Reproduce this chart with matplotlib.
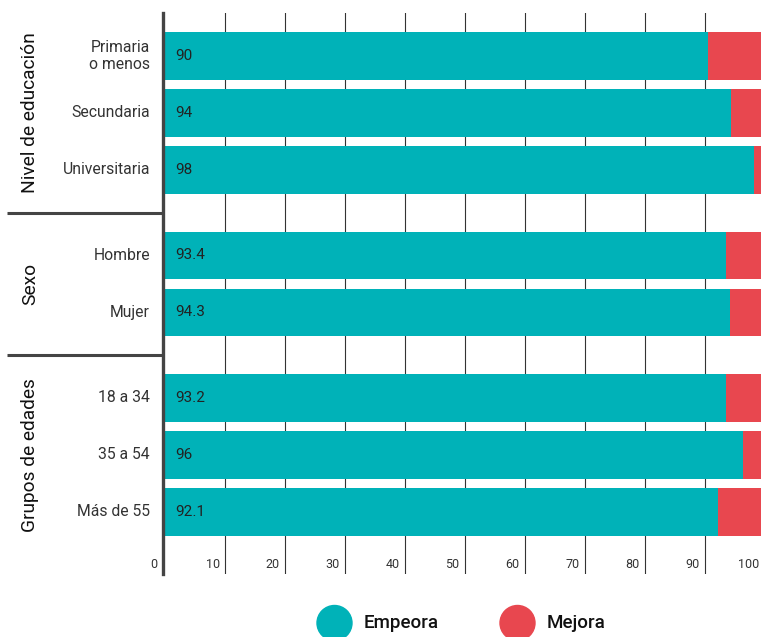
import matplotlib
matplotlib.use("Agg")
import matplotlib.pyplot as plt
from matplotlib.patches import Circle

plt.rcParams['font.family'] = ['Roboto', 'DejaVu Sans']

categories = ["Primaria\no menos", "Secundaria", "Universitaria",
              "Hombre", "Mujer",
              "18 a 34", "35 a 54", "Más de 55"]
value_labels = ["90", "94", "98", "93.4", "94.3", "93.2", "96", "92.1"]
empeora = [90.5, 94.4, 98.2, 93.6, 94.2, 93.6, 96.4, 92.2]
mejora = [100 - v for v in empeora]
groups = ["Nivel de educación", "Sexo", "Grupos de edades"]
group_members = [[0, 1, 2], [3, 4], [5, 6, 7]]
positions = [0, 1, 2, 3.5, 4.5, 6, 7, 8]
xticks = [0, 10, 20, 30, 40, 50, 60, 70, 80, 90, 100]

TEAL = "#00B2B8"
RED = "#E8474F"
DARK = "#444444"

W, H = 761, 637
fig = plt.figure(figsize=(W / 100, H / 100), dpi=100)
ax = fig.add_axes([163 / W, (H - 574) / H, 598 / W, 561 / H])
ax.set_xlim(-0.4, 99.4)
ax.set_ylim(9.09, -0.754)

# gridlines
for t in xticks[1:]:
    ax.axvline(t, color="#333333", lw=0.8, zorder=0)

ax.barh(positions, empeora, height=0.833, color=TEAL, zorder=2)
ax.barh(positions, mejora, left=empeora, height=0.833, color=RED, zorder=2)

for p, lab in zip(positions, value_labels):
    ax.text(1.6, p, lab, va="center", ha="left", fontsize=11, color="#222222", zorder=3)

for s in ["top", "right", "bottom"]:
    ax.spines[s].set_visible(False)
ax.spines["left"].set_linewidth(2.4)
ax.spines["left"].set_color(DARK)
ax.set_xticks([])
ax.set_yticks([])

# x tick labels
for t in xticks:
    if t == 0:
        ax.text(-1.3, 8.93, "0", ha="right", va="center", fontsize=9, color="#333333")
    else:
        ax.text(t - 0.9, 8.93, str(t), ha="right", va="center", fontsize=9, color="#333333")

ytr = ax.get_yaxis_transform()
for p, c in zip(positions, categories):
    ax.text(-13 / 598, p, c, transform=ytr, ha="right", va="center",
            fontsize=11.3, color="#333333", linespacing=1.2)

for g, mem in zip(groups, group_members):
    yc = sum(positions[i] for i in mem) / len(mem)
    ax.text(-133 / 598, yc, g, transform=ytr, rotation=90, ha="center", va="center",
            fontsize=13.8, color="#111111")

for ysep in [2.75, 5.25]:
    ax.plot([-156 / 598, 0], [ysep, ysep], transform=ytr, color=DARK, lw=2.2,
            clip_on=False, solid_capstyle="butt")

# legend
lax = fig.add_axes([0, 0, 1, 1], zorder=-1)
lax.set_xlim(0, W)
lax.set_ylim(H, 0)
lax.axis("off")
legend_names = ["Empeora", "Mejora"]
legend_colors = [TEAL, RED]
legend_x = [334.5, 517.5]
for name, col, x in zip(legend_names, legend_colors, legend_x):
    lax.add_patch(Circle((x, 623), 17.5, color=col))
    lax.text(x + 29, 623, name, ha="left", va="center", fontsize=13.5,
             color="#111111", fontweight="medium")

fig.savefig("out.png", dpi=100)
